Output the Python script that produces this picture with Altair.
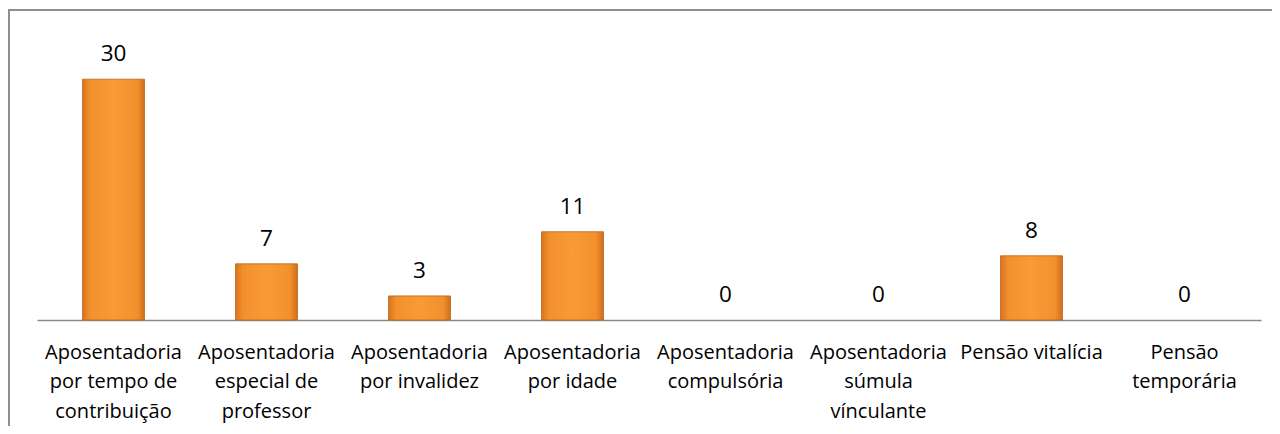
import altair as alt
import pandas as pd

categories = [
    "Aposentadoria|por tempo de|contribuição",
    "Aposentadoria|especial de|professor",
    "Aposentadoria|por invalidez",
    "Aposentadoria|por idade",
    "Aposentadoria|compulsória",
    "Aposentadoria|súmula|vínculante",
    "Pensão vitalícia",
    "Pensão|temporária",
]
values = [30, 7, 3, 11, 0, 0, 8, 0]

df = pd.DataFrame({"cat": categories, "val": values})

FONT = "Open Sans"
xenc = alt.X(
    "cat:N",
    sort=categories,
    scale=alt.Scale(paddingInner=0.595, paddingOuter=0.2975),
    axis=alt.Axis(
        title=None,
        labelAngle=0,
        labelLimit=0,
        labelFont=FONT,
        labelFontSize=20,
        labelColor="#000000",
        labelPadding=22,
        labelLineHeight=29.5,
        labelExpr="split(datum.label, '|')",
        ticks=False,
        domainColor="#8a8a8a",
        domainWidth=1.3,
        grid=False,
    ),
)
yenc = alt.Y("val:Q", scale=alt.Scale(domain=[0, 38], nice=False), axis=None)

grad = alt.Gradient(
    gradient="linear",
    x1=0, x2=1, y1=0, y2=0,
    stops=[
        alt.GradientStop(color="#D8741E", offset=0),
        alt.GradientStop(color="#F2902E", offset=0.12),
        alt.GradientStop(color="#F99A36", offset=0.5),
        alt.GradientStop(color="#F2902E", offset=0.88),
        alt.GradientStop(color="#D06E1C", offset=1),
    ],
)

base = alt.Chart(df)
bars = (
    base.mark_bar(color=grad, stroke="#B8651C", strokeWidth=0.8)
    .encode(x=xenc, y=yenc)
    .transform_filter("datum.val > 0")
)
labels = base.mark_text(
    font=FONT, fontSize=22.5, color="#000000", baseline="alphabetic", dy=-18
).encode(x=xenc, y=yenc, text="val:Q")

frame_left = base.mark_rule(color="#8f8f8f", strokeWidth=1.5).encode(
    x=alt.value(-28.2), y=alt.value(-5), y2=alt.value(430)
)
frame_top = base.mark_rule(color="#8f8f8f", strokeWidth=1.5).encode(
    x=alt.value(-30), x2=alt.value(1300), y=alt.value(-5)
)

chart = (
    alt.layer(frame_left, frame_top, bars, labels)
    .properties(
        width=1224,
        height=305,
        autosize=alt.AutoSizeParams(type="none"),
        padding={"left": 29, "right": 11, "top": 7, "bottom": 106},
    )
    .configure_view(strokeWidth=0)
)

chart.save("out.html", embed_options={"renderer": "svg", "actions": False})
